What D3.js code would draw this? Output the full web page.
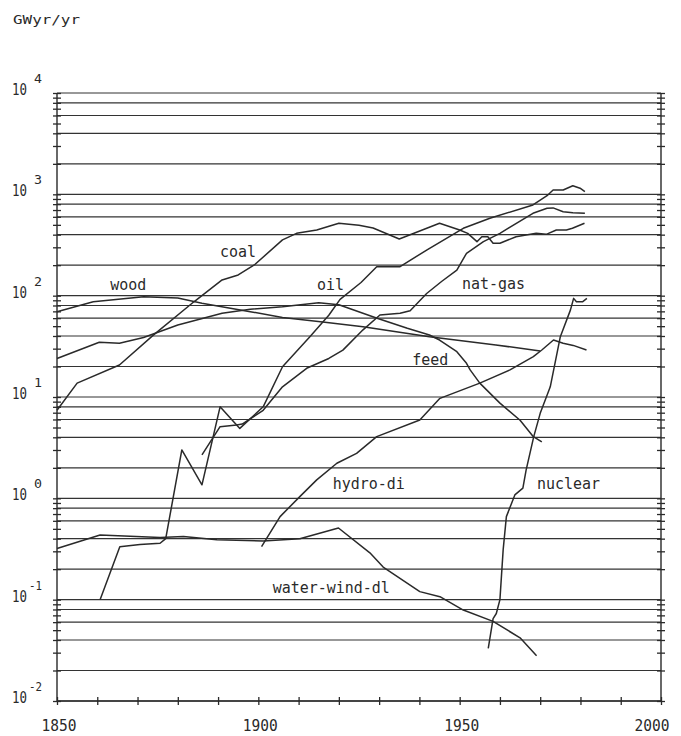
<!DOCTYPE html>
<html>
<head>
<meta charset="utf-8">
<script src="https://cdn.jsdelivr.net/npm/d3@7"></script>
<style>
  body { margin: 0; background: #fff; }
  #vis text { font-family: "DejaVu Sans Mono", monospace; fill: #2a2a2a; }
</style>
</head>
<body>
<div id="vis"></div>
<script>
// [year, GWyr/yr]
const coal = [[1850, 7.4], [1855, 13.7], [1865.5, 20.7], [1874, 41], [1884, 87], [1891, 143],
  [1895, 160], [1899, 201], [1906, 355], [1909.5, 412], [1914.5, 445], [1920, 518], [1925, 495],
  [1928.5, 466], [1935, 362], [1945, 518], [1950, 445], [1952, 412], [1954.3, 341], [1955.5, 382],
  [1957, 382], [1958.3, 329], [1960, 329], [1964, 382], [1969, 412], [1971.5, 403], [1974, 445],
  [1976.5, 445], [1978, 462], [1981, 518]];
const wood = [[1850, 69.5], [1859, 87], [1871.5, 97.7], [1880, 95], [1886, 84], [1898, 69.5],
  [1906, 61], [1916, 55], [1926, 49.4], [1942.5, 39.4], [1959, 32.6], [1970, 28.5]];
const feed = [[1850, 24], [1860.5, 34.7], [1865.5, 33.9], [1871.5, 38.7], [1880, 51.4], [1891, 67],
  [1898, 73.5], [1906, 77.8], [1915, 85.3], [1920, 81.5], [1929.5, 59.8], [1937, 47.6],
  [1942.5, 40.9], [1945, 36.5], [1949.3, 28], [1951.7, 21.5], [1952.6, 18.5], [1955, 13.7],
  [1960, 8.7], [1965, 5.9], [1968.3, 4.06], [1970.4, 3.6]];
const oil = [[1860.7, 0.1], [1865.6, 0.333], [1870.6, 0.35], [1875.6, 0.36], [1877, 0.4], [1881, 3.0],
  [1886, 1.36], [1890.5, 8.0], [1895.4, 4.9], [1901.2, 8.0], [1906, 19.9], [1912.8, 39.4],
  [1917.5, 64], [1920.3, 92], [1925.5, 135], [1929.4, 193], [1935.2, 193], [1941.8, 282],
  [1950.9, 462], [1957.5, 580], [1968.2, 785], [1971.7, 970], [1973.2, 1104], [1975.7, 1104],
  [1978.1, 1217], [1979.9, 1150], [1981.1, 1062]];
const natGas = [[1886, 2.68], [1890.5, 5.1], [1894.6, 5.3], [1896, 5.4], [1901.2, 7.4], [1906, 12.6],
  [1912, 19.2], [1917.5, 24], [1921, 29], [1926, 46], [1930.2, 64.5], [1935.2, 67], [1937.7, 71],
  [1941.8, 105], [1945.5, 138], [1949.3, 179], [1951.7, 262], [1955.9, 341], [1960, 412],
  [1968.2, 650], [1971.7, 728], [1973.2, 735], [1975.7, 674], [1978.1, 659], [1981.1, 650]];
const hydro = [[1900.8, 0.333], [1905.4, 0.66], [1910.3, 1.04], [1914.5, 1.52], [1919.5, 2.22],
  [1924.4, 2.78], [1929.4, 4.06], [1940.1, 5.93], [1945.1, 9.7], [1955, 13.7], [1962.5, 18.5],
  [1968.3, 25], [1970.4, 29.1], [1973.3, 36.5], [1975.7, 33.9], [1978.2, 32.3], [1981.5, 29.1]];
const nuclear = [[1957.1, 0.033], [1958.3, 0.065], [1959.1, 0.073], [1960, 0.1], [1960.8, 0.31],
  [1961.6, 0.66], [1963.7, 1.08], [1965.7, 1.26], [1966.5, 1.9], [1968.4, 4.06], [1970, 6.9],
  [1972.5, 12.6], [1975, 39.4], [1977.5, 72], [1978.3, 94], [1979, 87], [1980.5, 87], [1981.6, 94]];
const waterWind = [[1850, 0.32], [1860.7, 0.435], [1875.6, 0.41], [1881.4, 0.42], [1889.7, 0.39],
  [1901.2, 0.38], [1910.3, 0.40], [1919.9, 0.51], [1927.7, 0.29], [1931, 0.21], [1940.1, 0.12],
  [1945.1, 0.107], [1950.9, 0.079], [1958.3, 0.061], [1965, 0.042], [1969.1, 0.028]];

const series = [coal, wood, feed, oil, natGas, hydro, nuclear, waterWind];
const seriesNames = ["coal", "wood", "feed", "oil", "nat-gas", "hydro-di", "nuclear", "water-wind-dl"];
const yearTicks = [1850, 1900, 1950, 2000];
const unitLabel = "GWyr/yr";

const W = 681, H = 736;
const x0 = 57, x1 = 661, yTop = 93, yBot = 701;

const svg = d3.select("#vis")
              .append("svg")
              .attr("width", W)
              .attr("height", H);

const x = d3.scaleLinear().domain([1850, 2000]).range([x0, x1]);
const y = d3.scaleLog().domain([0.01, 10000]).range([yBot, yTop]);

const ink = "#2a2a2a";

// stretch text to plotter-like widths
function label(g, px, py, str, size, width, anchor) {
  return g.append("text")
          .attr("x", px)
          .attr("y", py)
          .attr("font-size", size)
          .attr("text-anchor", anchor || "start")
          .attr("textLength", width)
          .attr("lengthAdjust", "spacingAndGlyphs")
          .text(str);
}

// == grid ==
const yTicks = y.ticks();
const gridVals = yTicks.filter(v => [1, 2, 4, 6, 8].includes(Math.round(v / Math.pow(10, Math.floor(Math.log10(v) + 1e-9)))));

svg.append("g")
   .selectAll("line")
   .data(gridVals)
   .enter()
   .append("line")
   .attr("x1", x0).attr("x2", x1)
   .attr("y1", d => y(d)).attr("y2", d => y(d))
   .attr("stroke", "#333")
   .attr("stroke-width", 1.2);

// axes with cross ticks on both sides
const left = svg.append("g")
   .attr("transform", "translate(" + (x0 + 4) + ",0)")
   .call(d3.axisLeft(y).tickValues(yTicks).tickSize(8).tickFormat(""));
const right = svg.append("g")
   .attr("transform", "translate(" + (x1 - 4) + ",0)")
   .call(d3.axisRight(y).tickValues(yTicks).tickSize(8).tickFormat(""));
const bottom = svg.append("g")
   .attr("transform", "translate(0," + (yBot - 4) + ")")
   .call(d3.axisBottom(x).tickValues(d3.range(1850, 2001, 10)).tickSize(8).tickFormat(""));
[left, right, bottom].forEach(g => {
  g.select(".domain").remove();
  g.selectAll("line").attr("stroke", ink).attr("stroke-width", 1.3);
});

svg.append("path")
   .attr("d", "M" + x0 + "," + yTop + "V" + yBot + "H" + x1 + "V" + yTop)
   .attr("fill", "none")
   .attr("stroke", ink)
   .attr("stroke-width", 1.4);

// == tick labels ==
const tl = svg.append("g");
d3.range(-2, 5).forEach(k => {
  const py = y(Math.pow(10, k));
  label(tl, 12, py + 2, "10", 15, 15);
  const e = String(k);
  label(tl, 42, py - 10, e, 13, e.length > 1 ? 13 : 8, "end");
});
yearTicks.forEach(d => {
  const px = d === 2000 ? x(d) - 9 : x(d) + 2;
  label(tl, px, 731, String(d), 16, 35, "middle");
});
label(tl, 13, 24, unitLabel, 12.5, 67);

// == series ==
const line = d3.line()
               .x(d => x(d[0]))
               .y(d => y(d[1]));

svg.append("g")
   .selectAll("path")
   .data(series)
   .enter()
   .append("path")
   .attr("d", line)
   .attr("fill", "none")
   .attr("stroke", ink)
   .attr("stroke-width", 1.5)
   .attr("stroke-linejoin", "round");

// label anchors in data space (year, value)
const spots = [[1890.5, 241], [1863.2, 114], [1938.2, 20.7], [1914.6, 114], [1950.6, 116],
  [1918.5, 1.24], [1969.2, 1.24], [1903.6, 0.116]];
const lg = svg.append("g");
seriesNames.forEach((n, i) => {
  label(lg, x(spots[i][0]), y(spots[i][1]), n, 16, n.length * 9);
});
</script>
</body>
</html>
